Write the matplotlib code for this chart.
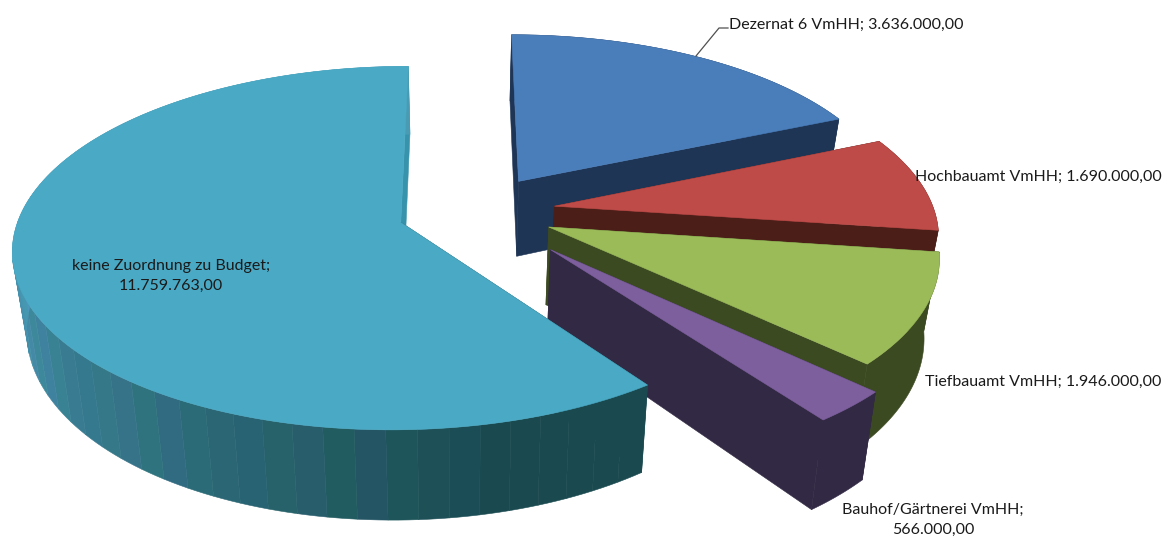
import numpy as np
import matplotlib
matplotlib.use('Agg')
import matplotlib.pyplot as plt
from matplotlib.patches import Polygon

# Budget per position (clockwise from the top)
names = ['Dezernat 6 VmHH', 'Hochbauamt VmHH', 'Tiefbauamt VmHH', 'Bauhof/Gärtnerei VmHH', 'keine Zuordnung zu Budget']
values = [3636000, 1690000, 1946000, 566000, 11759763]

top_colors = ['#4A7EBB', '#BE4B48', '#9BBB59', '#7D5F9E', '#4AA9C4']
wall_colors = ['#1F3555', '#4C1E18', '#3C4A22', '#322944', '#1A4A50']
explode = [0.208, 0.208, 0.208, 0.285, 0.208]

# Projection of the tilted pie, in pixels
x0, y0 = 461, 215
k = 0.0008
R = 381
tilt = 0.462
cx, cy = 15.5, 4
depth = 77
shrink = 0.968


def project(a, b, lower=False):
    w = 1 + k * b
    if lower:
        return x0 + shrink * a / w, y0 - b / w + depth / w
    return x0 + a / w, y0 - b / w


def german(v):
    return f'{v:,.2f}'.replace(',', 'X').replace('.', ',').replace('X', '.')


fig = plt.figure(figsize=(11.63, 5.39), dpi=100)
ax = fig.add_axes([0, 0, 1, 1])
ax.set_xlim(0, 1163)
ax.set_ylim(539, 0)
ax.axis('off')

fractions = np.array(values) / sum(values)
edges = np.concatenate([[0], np.cumsum(fractions)]) * 2 * np.pi

# Wall bands of the big slice: shading steps are cycled to get the mottled look
band_tint = np.array([[0, 0, 0], [-3, 2, -2], [2, -1, 5], [-2, 3, -3], [3, 0, 4], [0, 2, -2], [-2, 0, 1]]) / 255
light = np.array([0x4A, 0x98, 0xB6]) / 255
dark = np.array([0x1A, 0x4A, 0x50]) / 255


def fill(xy, color, z):
    ax.add_patch(Polygon(xy, closed=True, facecolor=color, edgecolor=color, linewidth=0.4, zorder=z))


for i in range(len(values)):
    t = np.linspace(edges[i], edges[i + 1], 160)
    mid = (edges[i] + edges[i + 1]) / 2
    ax_ = cx + explode[i] * R * np.sin(mid)
    bx_ = cy + explode[i] * R * tilt * np.cos(mid)
    a = ax_ + R * np.sin(t)
    b = bx_ + R * tilt * np.cos(t)
    z = i * 10

    ux, uy = project(a, b)
    lx, ly = project(a, b, lower=True)
    apex_u = project(ax_, bx_)
    apex_l = project(ax_, bx_, lower=True)

    # Radial walls
    end_color = '#3793AB' if i == 4 else wall_colors[i]
    fill([apex_u, (ux[-1], uy[-1]), (lx[-1], ly[-1]), apex_l], end_color, z)
    fill([apex_u, (ux[0], uy[0]), (lx[0], ly[0]), apex_l], wall_colors[i], z)

    # Outer wall
    if i == 4:
        step = 3
        for j in range(0, len(t) - 1, step):
            e = min(j + step, len(t) - 1)
            deg = np.degrees(t[j])
            f = np.clip((deg - 165) / (265 - 165), 0, 1)
            col = dark + (light - dark) * f
            if deg > 165:
                col = np.clip(col + band_tint[(j // step) % len(band_tint)], 0, 1)
            fill(np.column_stack([np.r_[ux[j:e + 1], lx[j:e + 1][::-1]],
                                  np.r_[uy[j:e + 1], ly[j:e + 1][::-1]]]), col, z + 1)
    else:
        fill(np.column_stack([np.r_[ux, lx[::-1]], np.r_[uy, ly[::-1]]]), wall_colors[i], z + 1)

    # Top face
    fill(np.vstack([apex_u, np.column_stack([ux, uy])]), top_colors[i], z + 2)

# Labels
font = dict(family='Lato', fontsize=11.5, color='#1a1a1a', zorder=100)
ax.text(846, 25, f'{names[0]}; {german(values[0])}', ha='center', va='center', **font)
ax.text(1038, 177, f'{names[1]}; {german(values[1])}', ha='center', va='center', **font)
ax.text(1043, 382, f'{names[2]}; {german(values[2])}', ha='center', va='center', **font)
ax.text(933, 520, f'{names[3]};\n{german(values[3])}', ha='center', va='center', linespacing=1.55, **font)
ax.text(171, 276, f'{names[4]};\n{german(values[4])}', ha='center', va='center', linespacing=1.55, **font)

# Leader line for the first label
ax.plot([696, 719, 728], [56, 28, 28], color='#505050', linewidth=0.9, zorder=100)

fig.savefig('out.png', dpi=100, facecolor='white')
